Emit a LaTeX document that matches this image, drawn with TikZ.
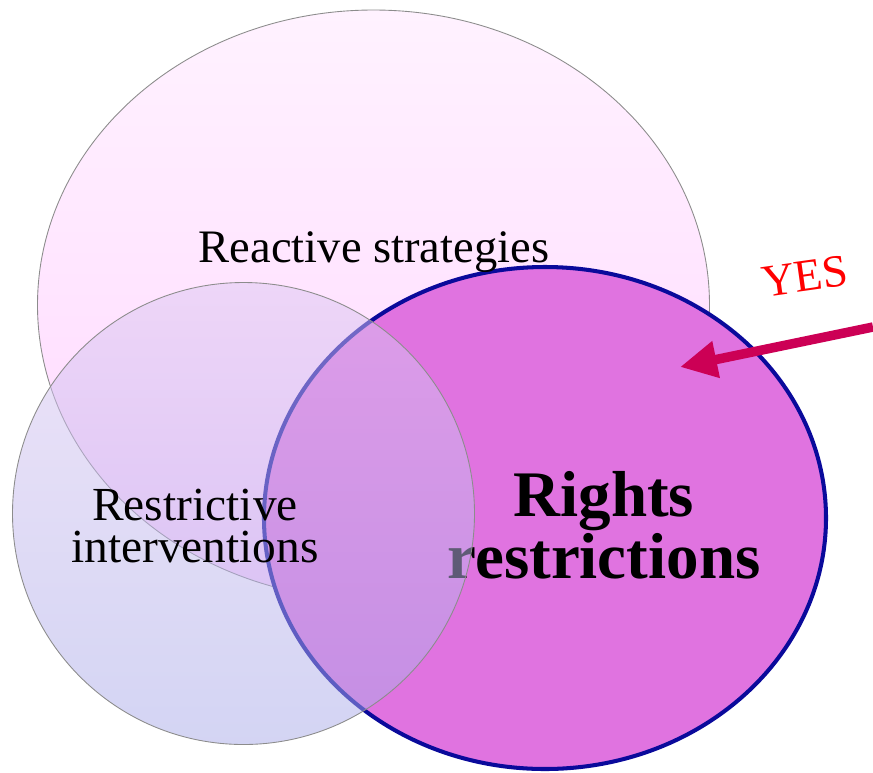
\documentclass[tikz,border=0pt]{standalone}
\usepackage{fontspec}
\setmainfont{Liberation Serif}
\usetikzlibrary{arrows.meta}
\definecolor{pinktop}{RGB}{255,242,255}
\definecolor{pinkbot}{RGB}{255,214,255}
\definecolor{rightfill}{RGB}{224,115,224}
\definecolor{rightline}{RGB}{10,10,155}
\definecolor{lavtop}{RGB}{222,200,242}
\definecolor{lavbot}{RGB}{168,170,232}
\definecolor{arrowred}{RGB}{204,0,85}
\begin{document}
\begin{tikzpicture}[x=0.02cm,y=-0.02cm]
	\tikzstyle{thinline}=[draw=black!45,line width=0.5pt];
	\tikzstyle{label}=[inner sep=0pt,anchor=base,align=center];
	\useasboundingbox (0,0) rectangle (873,772);
	\shade[thinline,top color=pinktop,bottom color=pinkbot] (373.5,305) ellipse [x radius=336, y radius=295];
	\draw[fill=rightfill,draw=rightline,line width=2.3pt] (545,518) ellipse [x radius=281, y radius=251];
	\node[label,font=\fontsize{37}{30}\selectfont\bfseries] (rights) at (604,578) {Rights\\restrictions};
	\shade[thinline,top color=lavtop,bottom color=lavbot,opacity=0.5,draw opacity=1] (243.5,513.5) circle [radius=231];
	\node[label,font=\fontsize{26.5}{24}\selectfont] (reactive) at (374,262) {Reactive strategies};
	\node[label,font=\fontsize{27}{23.5}\selectfont] (restrictive) at (195,562) {Restrictive\\interventions};
	\node[label,text=red,rotate=8,font=\fontsize{26}{26}\selectfont] (yes) at (807,291) {YES};
	\coordinate (tail) at (873,327);
	\coordinate (tip) at (680,367);
	\draw[arrowred,line width=5.4pt,-{Triangle[length=21pt,width=20pt]}] (tail) -- (tip);
\end{tikzpicture}
\end{document}
